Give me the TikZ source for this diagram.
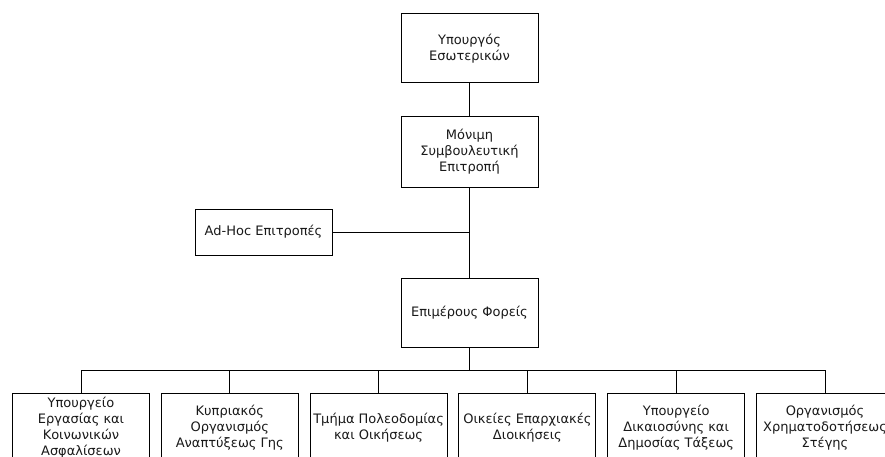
\documentclass[tikz,border=0pt]{standalone}
\usepackage{fontspec}
\setmainfont{DejaVu Sans}
\begin{document}
\begin{tikzpicture}[x=1pt,y=-1pt,
  box/.style={draw=black,line width=1pt,fill=white,minimum width=137pt,minimum height=69pt,inner sep=0pt,align=center,font=\fontsize{13}{16}\selectfont,text=black!90},
  conn/.style={draw=black,line width=1pt}]
\useasboundingbox (0,0) rectangle (885,457);
\clip (0,0) rectangle (885,457);
\node[box] (top) at (469.5,48.5) {Υπουργός\\Εσωτερικών};
\node[box,minimum height=70pt] (mid) at (469.5,152) {Μόνιμη\\Συμβουλευτική\\Επιτροπή};
\node[box,minimum height=46pt] (adhoc) at (263.5,232) {Ad-Hoc Επιτροπές};
\node[box] (epim) at (469.5,312.5) {Επιμέρους Φορείς};
\coordinate (j) at (469.5,232);
\coordinate (bus) at (469.5,370);
\node[box,minimum height=70pt] (b1) at (81,428) {Υπουργείο\\Εργασίας και\\Κοινωνικών\\Ασφαλίσεων};
\node[box,minimum height=70pt] (b2) at (229.8,428) {Κυπριακός\\Οργανισμός\\Αναπτύξεως Γης};
\node[box,minimum height=70pt] (b3) at (378.6,428) {Τμήμα Πολεοδομίας\\και Οικήσεως};
\node[box,minimum height=70pt] (b4) at (527.4,428) {Οικείες Επαρχιακές\\Διοικήσεις};
\node[box,minimum height=70pt] (b5) at (676.2,428) {Υπουργείο\\Δικαιοσύνης και\\Δημοσίας Τάξεως};
\node[box,minimum height=70pt] (b6) at (825,428) {Οργανισμός\\Χρηματοδοτήσεως\\Στέγης};
\draw[conn] (top) -- (mid);
\draw[conn] (mid) -- (epim);
\draw[conn] (adhoc) -- (j);
\draw[conn] (epim) -- (bus);
\draw[conn] (b1.north) |- (bus);
\draw[conn] (b6.north) |- (bus);
\foreach \b in {b2,b3,b4,b5} \draw[conn] (\b.north) -- (\b.north |- bus);
\end{tikzpicture}
\end{document}
